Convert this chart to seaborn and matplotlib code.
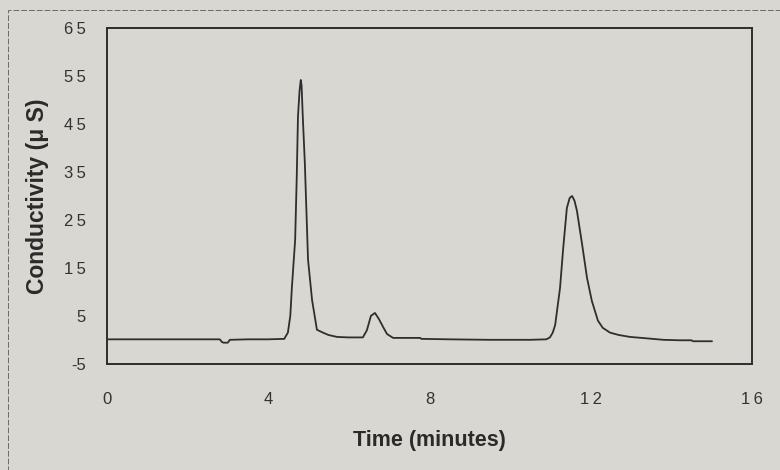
import pandas as pd
import matplotlib
matplotlib.use("Agg")
import matplotlib.pyplot as plt
import seaborn as sns
from matplotlib.patches import Rectangle
from matplotlib.ticker import FuncFormatter

# chromatogram values
time_min = [0.0, 1.0, 2.0, 2.8, 2.86, 2.9, 3.0, 3.05, 3.5, 4.0, 4.4, 4.49, 4.55,
            4.59, 4.67, 4.71, 4.74, 4.78, 4.81, 4.83, 4.86, 4.91, 4.99, 5.09,
            5.21, 5.36, 5.5, 5.71, 6.0, 6.35, 6.45, 6.55, 6.65, 6.75, 6.85,
            6.95, 7.1, 7.5, 7.77, 7.8, 8.5, 9.5, 10.5, 10.9, 10.99, 11.06,
            11.12, 11.24, 11.32, 11.41, 11.48, 11.54, 11.6, 11.66, 11.79,
            11.91, 12.03, 12.18, 12.3, 12.48, 12.7, 12.98, 13.4, 13.8, 14.2,
            14.5, 14.54, 15.01]
conductivity = [0.1, 0.1, 0.1, 0.1, -0.5, -0.6, -0.6, 0.0, 0.1, 0.1, 0.2, 1.5,
                5.0, 11.0, 20.8, 34.0, 46.5, 52.0, 54.2, 53.0, 46.5, 37.0,
                16.7, 8.3, 2.1, 1.5, 1.0, 0.6, 0.5, 0.5, 2.0, 5.0, 5.6, 4.3,
                2.7, 1.2, 0.4, 0.4, 0.4, 0.2, 0.1, 0.0, 0.0, 0.1, 0.5, 1.5,
                3.1, 10.8, 19.2, 27.5, 29.6, 30.0, 29.0, 26.9, 19.8, 12.9, 8.1,
                4.0, 2.5, 1.5, 1.0, 0.6, 0.3, 0.0, -0.1, -0.1, -0.3, -0.3]

y_ticks = [-5, 5, 15, 25, 35, 45, 55, 65]
x_ticks = [0, 4, 8, 12, 16]

df = pd.DataFrame({"Time": time_min, "Conductivity": conductivity})

paper = "#d8d7d2"
ink = "#2e2e2e"

sns.set_style("white")
plt.rcParams["font.family"] = ["Liberation Sans", "DejaVu Sans"]

fig = plt.figure(figsize=(7.8, 4.7), dpi=100, facecolor=paper)
ax = fig.add_axes([0.137, 0.226, 0.827, 0.714])
ax.set_facecolor(paper)

sns.lineplot(data=df, x="Time", y="Conductivity", ax=ax, color=ink,
             linewidth=1.3, estimator=None, sort=False)

ax.set_xlim(0, 16)
ax.set_ylim(-5, 65)
ax.set_xticks(x_ticks)
ax.set_yticks(y_ticks)


# the scanned labels are widely letter-spaced
def spaced(v, pos):
    n = int(v)
    sign = "-" if n < 0 else ""
    return sign + "\u2009".join(str(abs(n)))


ax.xaxis.set_major_formatter(FuncFormatter(spaced))
ax.yaxis.set_major_formatter(FuncFormatter(spaced))

ax.tick_params(direction="inout", length=8, width=0.8, color="#555555",
               labelsize=12, labelcolor="#333333")
ax.tick_params(axis="y", pad=11)
ax.tick_params(axis="x", pad=16)
for s in ax.spines.values():
    s.set_color(ink)
    s.set_linewidth(1.4)

ax.set_xlabel("Time (minutes)", fontsize=15.5, fontweight="bold",
              color="#2a2a2a")
ax.set_ylabel("Conductivity (\u03bc S)", fontsize=16.5, fontweight="bold",
              color="#2a2a2a")
ax.xaxis.set_label_coords(0.5, -0.196)
ax.yaxis.set_label_coords(-0.089, 0.5)

# outer chart-area border from the scanned page
fig.patches.append(Rectangle((8 / 780, -0.05), 1.0, 1.0 - 10 / 470 + 0.05,
                             transform=fig.transFigure, fill=False,
                             edgecolor="#6a6a6a", linewidth=0.7,
                             linestyle=(0, (6, 2))))

fig.savefig("out.png", dpi=100, facecolor=paper)
